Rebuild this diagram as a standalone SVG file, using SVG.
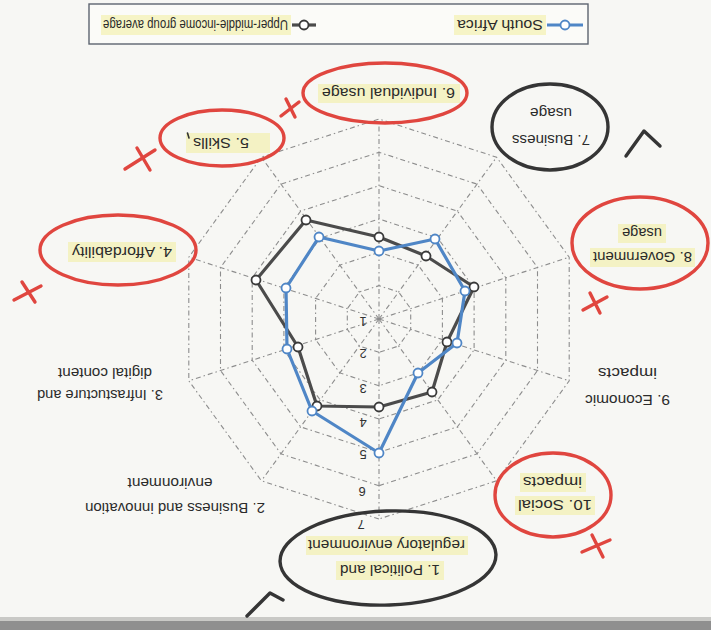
<svg xmlns="http://www.w3.org/2000/svg" width="711" height="630" viewBox="0 0 711 630">
  <defs>
    <style>
      .bg { fill: #f7f7f4; }
      .lbl { font-family: "Liberation Sans", Arial, sans-serif; font-size: 15px; fill: #2b2b2b; text-anchor: middle; }
      .leg { font-family: "Liberation Sans", Arial, sans-serif; font-size: 15px; fill: #2b2b2b; text-anchor: middle; }
      .num { font-family: "Liberation Sans", Arial, sans-serif; font-size: 13px; fill: #333; text-anchor: middle; }
      .ring { fill: none; stroke: #8d8d8d; stroke-width: 1.1; stroke-dasharray: 5 3 1.5 3; }
      .spoke { fill: none; stroke: #8d8d8d; stroke-width: 1.1; stroke-dasharray: 5 3 1.5 3; }
      .hl { fill: #f2ee9c; opacity: 0.55; }
      .umi { fill: none; stroke: #4b4b4b; stroke-width: 3.2; stroke-linejoin: round; }
      .sa { fill: none; stroke: #4f86c6; stroke-width: 3.2; stroke-linejoin: round; }
      .umi-pt { fill: #ffffff; stroke: #3a3a3a; stroke-width: 1.8; }
      .sa-pt { fill: #ffffff; stroke: #4f86c6; stroke-width: 1.8; }
      .ink-red { fill: none; stroke: #e0463f; stroke-width: 3.4; stroke-linecap: round; }
      .ink-blk { fill: none; stroke: #353535; stroke-width: 3.4; stroke-linecap: round; stroke-linejoin: round; }
    </style>
  </defs>

  <!-- page -->
  <rect class="bg" x="0" y="0" width="711" height="630"/>
  <rect x="0" y="621" width="711" height="9" fill="#8f8f8f"/>
  <rect x="0" y="617" width="711" height="4" fill="#c9c9c6"/>

  <!-- legend box -->
  <g id="legend">
    <rect x="89" y="4" width="499" height="40" fill="#fbfbf8" stroke="#5d6470" stroke-width="1.4"/>
    <rect class="hl" x="101" y="15" width="190" height="20"/>
    <rect class="hl" x="454" y="15" width="92" height="20"/>
    <text class="leg" x="195.5" y="25" dy="0.35em" transform="rotate(180 195.5 25)" textLength="185" lengthAdjust="spacingAndGlyphs">Upper-middle-income group average</text>
    <line x1="292" y1="25" x2="316" y2="25" stroke="#4b4b4b" stroke-width="3.2"/>
    <circle class="umi-pt" cx="304" cy="25" r="4.5"/>
    <text class="leg" x="500" y="25" dy="0.35em" transform="rotate(180 500 25)" textLength="86" lengthAdjust="spacingAndGlyphs">South Africa</text>
    <line x1="547" y1="25" x2="583" y2="25" stroke="#4f86c6" stroke-width="3.2"/>
    <circle class="sa-pt" cx="565" cy="25" r="4.5"/>
  </g>

  <!-- radar grid: rings for values 2..7, centre = 1 -->
  <g id="grid">
    <polygon class="ring" points="379,352.3 359.4,346 347.3,329.3 347.3,308.7 359.4,292 379,285.7 398.6,292 410.7,308.7 410.7,329.3 398.6,346"/>
    <polygon class="ring" points="379,385.7 339.8,372.9 315.6,339.6 315.6,298.4 339.8,265.1 379,252.3 418.2,265.1 442.4,298.4 442.4,339.6 418.2,372.9"/>
    <polygon class="ring" points="379,419 320.2,399.9 283.9,349.9 283.9,288.1 320.2,238.1 379,219 437.8,238.1 474.1,288.1 474.1,349.9 437.8,399.9"/>
    <polygon class="ring" points="379,452.3 300.6,426.9 252.2,360.2 252.2,277.8 300.6,211.1 379,185.7 457.4,211.1 505.8,277.8 505.8,360.2 457.4,426.9"/>
    <polygon class="ring" points="379,485.7 281,453.9 220.5,370.5 220.5,267.5 281,184.1 379,152.3 477,184.1 537.5,267.5 537.5,370.5 477,453.9"/>
    <polygon class="ring" points="379,519 261.4,480.8 188.8,380.8 188.8,257.2 261.4,157.2 379,119 496.6,157.2 569.2,257.2 569.2,380.8 496.6,480.8"/>
    <g class="spoke">
      <line x1="379" y1="319" x2="379" y2="519"/>
      <line x1="379" y1="319" x2="261.4" y2="480.8"/>
      <line x1="379" y1="319" x2="188.8" y2="380.8"/>
      <line x1="379" y1="319" x2="188.8" y2="257.2"/>
      <line x1="379" y1="319" x2="261.4" y2="157.2"/>
      <line x1="379" y1="319" x2="379" y2="119"/>
      <line x1="379" y1="319" x2="496.6" y2="157.2"/>
      <line x1="379" y1="319" x2="569.2" y2="257.2"/>
      <line x1="379" y1="319" x2="569.2" y2="380.8"/>
      <line x1="379" y1="319" x2="496.6" y2="480.8"/>
    </g>
  </g>

  <!-- scale values along axis 1 -->
  <g id="scale">
    <text class="num" x="363" y="322" dy="0.35em" transform="rotate(180 363 322)">1</text>
    <text class="num" x="363" y="354" dy="0.35em" transform="rotate(180 363 354)">2</text>
    <text class="num" x="363" y="389" dy="0.35em" transform="rotate(180 363 389)">3</text>
    <text class="num" x="363" y="423" dy="0.35em" transform="rotate(180 363 423)">4</text>
    <text class="num" x="363" y="455" dy="0.35em" transform="rotate(180 363 455)">5</text>
    <text class="num" x="362" y="492" dy="0.35em" transform="rotate(180 362 492)">6</text>
    <text class="num" x="361" y="525" dy="0.35em" transform="rotate(180 361 525)">7</text>
  </g>

  <!-- data series -->
  <g id="connectors">
    <polygon class="umi" points="379,407 317,406 298,347 256,280 306,220 379,237 426,256 474,287 447,342 432,392"/>
    <polygon class="sa" points="379,453 312,411 287,349 286,288 319,237 379,251 435,239 465,291 457,343 418,373"/>
  </g>
  <g id="umi-points">
    <circle class="umi-pt" cx="379" cy="407" r="4.5"/>
    <circle class="umi-pt" cx="317" cy="406" r="4.5"/>
    <circle class="umi-pt" cx="298" cy="347" r="4.5"/>
    <circle class="umi-pt" cx="256" cy="280" r="4.5"/>
    <circle class="umi-pt" cx="306" cy="220" r="4.5"/>
    <circle class="umi-pt" cx="379" cy="237" r="4.5"/>
    <circle class="umi-pt" cx="426" cy="256" r="4.5"/>
    <circle class="umi-pt" cx="474" cy="287" r="4.5"/>
    <circle class="umi-pt" cx="447" cy="342" r="4.5"/>
    <circle class="umi-pt" cx="432" cy="392" r="4.5"/>
  </g>
  <g id="sa-points">
    <circle class="sa-pt" cx="379" cy="453" r="4.5"/>
    <circle class="sa-pt" cx="312" cy="411" r="4.5"/>
    <circle class="sa-pt" cx="287" cy="349" r="4.5"/>
    <circle class="sa-pt" cx="286" cy="288" r="4.5"/>
    <circle class="sa-pt" cx="319" cy="237" r="4.5"/>
    <circle class="sa-pt" cx="379" cy="251" r="4.5"/>
    <circle class="sa-pt" cx="435" cy="239" r="4.5"/>
    <circle class="sa-pt" cx="465" cy="291" r="4.5"/>
    <circle class="sa-pt" cx="457" cy="343" r="4.5"/>
    <circle class="sa-pt" cx="418" cy="373" r="4.5"/>
  </g>

  <!-- axis labels -->
  <g id="node-1">
    <rect class="hl" x="336" y="561" width="108" height="19"/>
    <rect class="hl" x="306" y="536" width="162" height="19"/>
    <text class="lbl" x="390" y="570" dy="0.35em" transform="rotate(180 390 570)" textLength="100" lengthAdjust="spacingAndGlyphs">1. Political and</text>
    <text class="lbl" x="386.5" y="545" dy="0.35em" transform="rotate(180 386.5 545)" textLength="157" lengthAdjust="spacingAndGlyphs">regulatory environment</text>
    <ellipse class="ink-blk" cx="388" cy="558" rx="108" ry="47" transform="rotate(-2 388 558)"/>
    <path class="ink-blk" d="M283,600 L270,593 L247,616"/>
  </g>
  <g id="node-2">
    <text class="lbl" x="175" y="508" dy="0.35em" transform="rotate(180 175 508)" textLength="180" lengthAdjust="spacingAndGlyphs">2. Business and innovation</text>
    <text class="lbl" x="170" y="483" dy="0.35em" transform="rotate(180 170 483)" textLength="85" lengthAdjust="spacingAndGlyphs">environment</text>
  </g>
  <g id="node-3">
    <text class="lbl" x="100" y="395" dy="0.35em" transform="rotate(180 100 395)" textLength="126" lengthAdjust="spacingAndGlyphs">3. Infrastucture and</text>
    <text class="lbl" x="105" y="373" dy="0.35em" transform="rotate(180 105 373)" textLength="94" lengthAdjust="spacingAndGlyphs">digital content</text>
  </g>
  <g id="node-4">
    <rect class="hl" x="68" y="242" width="108" height="20"/>
    <text class="lbl" x="122" y="252" dy="0.35em" transform="rotate(180 122 252)" textLength="100" lengthAdjust="spacingAndGlyphs">4. Affordability</text>
    <ellipse class="ink-red" cx="118" cy="250" rx="78" ry="35"/>
    <path class="ink-red" d="M14,300 L41,286 M22,282 L35,302"/>
  </g>
  <g id="node-5">
    <rect class="hl" x="186" y="133" width="84" height="20"/>
    <text class="lbl" x="221" y="143" dy="0.35em" transform="rotate(180 221 143)" textLength="56" lengthAdjust="spacingAndGlyphs">5. Skills</text>
    <path d="M187.5,133 L189,138" stroke="#333" stroke-width="1.6" stroke-linecap="round"/>
    <ellipse class="ink-red" cx="222" cy="138" rx="62" ry="28"/>
    <path class="ink-red" d="M125,169 L155,150 M137,148 L150,170"/>
  </g>
  <g id="node-6">
    <rect class="hl" x="318" y="84" width="142" height="19"/>
    <text class="lbl" x="388.5" y="93" dy="0.35em" transform="rotate(180 388.5 93)" textLength="133" lengthAdjust="spacingAndGlyphs">6. Individual usage</text>
    <ellipse class="ink-red" cx="385" cy="93" rx="82" ry="30"/>
    <path class="ink-red" d="M281,116 L299,102 M286,99 L295,117"/>
  </g>
  <g id="node-7">
    <text class="lbl" x="551" y="140" dy="0.35em" transform="rotate(180 551 140)" textLength="78" lengthAdjust="spacingAndGlyphs">7. Business</text>
    <text class="lbl" x="551" y="113" dy="0.35em" transform="rotate(180 551 113)" textLength="42" lengthAdjust="spacingAndGlyphs">usage</text>
    <ellipse class="ink-blk" cx="550" cy="127" rx="58" ry="43"/>
    <path class="ink-blk" d="M660,146 L644,131 L626,156"/>
  </g>
  <g id="node-8">
    <rect class="hl" x="590" y="248" width="105" height="19"/>
    <rect class="hl" x="618" y="224" width="48" height="19"/>
    <text class="lbl" x="642.5" y="257" dy="0.35em" transform="rotate(180 642.5 257)" textLength="99" lengthAdjust="spacingAndGlyphs">8. Government</text>
    <text class="lbl" x="642" y="233" dy="0.35em" transform="rotate(180 642 233)" textLength="40" lengthAdjust="spacingAndGlyphs">usage</text>
    <ellipse class="ink-red" cx="640" cy="243" rx="68" ry="46"/>
    <path class="ink-red" d="M583,310 L607,297 M590,293 L600,313"/>
  </g>
  <g id="node-9">
    <text class="lbl" x="627.5" y="400" dy="0.35em" transform="rotate(180 627.5 400)" textLength="85" lengthAdjust="spacingAndGlyphs">9. Economic</text>
    <text class="lbl" x="627.5" y="373" dy="0.35em" transform="rotate(180 627.5 373)" textLength="59" lengthAdjust="spacingAndGlyphs">impacts</text>
  </g>
  <g id="node-10">
    <rect class="hl" x="515" y="496" width="80" height="19"/>
    <rect class="hl" x="520" y="473" width="66" height="19"/>
    <text class="lbl" x="555" y="505" dy="0.35em" transform="rotate(180 555 505)" textLength="74" lengthAdjust="spacingAndGlyphs">10. Social</text>
    <text class="lbl" x="552.5" y="482" dy="0.35em" transform="rotate(180 552.5 482)" textLength="59" lengthAdjust="spacingAndGlyphs">impacts</text>
    <ellipse class="ink-red" cx="553" cy="495" rx="58" ry="42"/>
    <path class="ink-red" d="M582,552 L610,540 M592,535 L603,557"/>
  </g>
</svg>
